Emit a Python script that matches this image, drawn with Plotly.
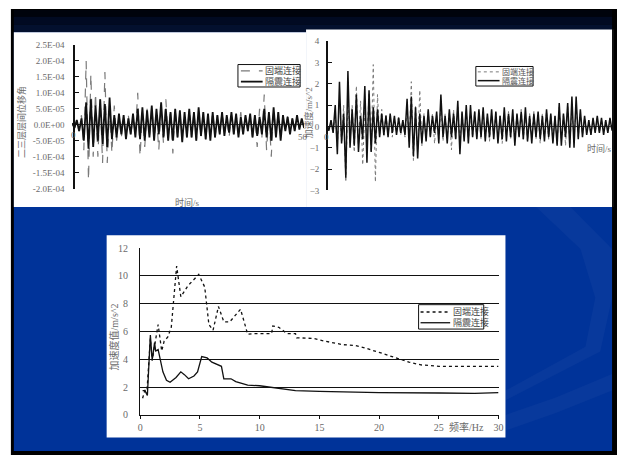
import numpy as np
import plotly.graph_objects as go

W, H = 622, 461

# ---------------- data ----------------
# top-left: inter-storey drift angle (units 1e-5), alternating extrema, 0-50 s
drift_fixed = [0.5, -1.0, 1.0, -2.0,
               3.0, -8.0, 20.0, -17.5, 16.0, -10.0, 10.0, -10.0, 8.0, -12.0, 16.5, -12.0, 5.0, -9.0, 6.0,
               -5.0, 3.0, -4.0, 2.0, -3.0, 3.0, -3.0, 2.0,
               -3.0, 10.0, -10.0, 4.0, -7.0, 5.0, -4.0, 6.0, -5.0, 3.0, -8.0, 6.0, -6.0, 8.0,
               -4.0, 5.0, -9.0, 5.0, -4.0, 4.0, -5.0, 3.0, -4.0, 5.0, -4.0, 4.0, -5.0, 3.0, -4.0, 4.0, -5.0, 3.0, -3.0, 4.0, -4.0,
               3.0, -3.0, 4.0, -3.0, 2.0, -4.0, 3.0, -3.0, 3.0, -2.0, 4.0, -3.0, 3.0, -2.0, 2.0, -4.0, 3.0, -7.0, 5.0,
               -4.0, 9.5, -8.0, 4.0, -10.0, 5.0, -3.0, 4.0, -4.0, 2.0,
               -2.0, 3.0, -2.0, 2.0, -2.0, 2.0, -1.0, 1.0, -0.5]
drift_isolated = [0.5, -1.0, 1.5, -2.0,
                  2.0, -5.0, 7.0, -7.5, 8.0, -7.0, 6.0, -5.0, 8.0, -6.0, 6.5, -7.0, 8.5, -4.5, 3.0,
                  -4.0, 3.5, -3.0, 3.0, -4.5, 2.0, -3.0, 3.5,
                  -4.0, 5.0, -4.5, 5.5, -5.0, 4.5, -4.0, 6.0, -5.0, 5.0, -3.0, 7.0, -4.0, 5.0,
                  -5.0, 4.0, -5.0, 5.0, -4.0, 4.5, -5.5, 4.0, -4.0, 5.0, -4.0, 4.0, -5.0, 5.5, -3.5, 4.0, -4.5, 3.5, -5.0, 4.0, -4.0,
                  3.0, -3.0, 4.0, -3.5, 3.0, -2.5, 4.0, -3.0, 3.5, -4.0, 2.5, -3.0, 3.0, -2.0, 3.5, -4.0, 3.0, -3.5, 2.5,
                  -3.0, 5.0, -4.0, 4.0, -5.0, 5.5, -4.0, 4.0, -5.0, 3.0,
                  -2.0, 2.5, -3.0, 2.0, -2.0, 3.0, -1.5, 2.0, -1.0]
drift_ticks = [2.5e-4, 2.0e-4, 1.5e-4, 1.0e-4, 5.0e-5, 0.0, -5.0e-5, -1.0e-4, -1.5e-4, -2.0e-4]
drift_ticktext = ["2.5E-04", "2.0E-04", "1.5E-04", "1.0E-04", "5.0E-05", "0.0E+00",
                  "-5.0E-05", "-1.0E-04", "-1.5E-04", "-2.0E-04"]

# top-right: acceleration (m/s^2), alternating extrema, 0-50 s
acc_fixed = [0.1, -0.1, 0.2, -0.3,
             0.6, -1.0, 1.2, -0.8, 1.0, -2.6, 1.5, -0.8, 1.0, -1.2, 1.9, -1.0, 1.2, -1.8, 0.8, -0.6, 1.6, -1.2, 2.9, -2.6, 1.5, -0.5,
             0.8, -0.5, 0.6, -0.4, 0.5, -0.5, 0.4, -0.3, 0.5, -0.4, 0.3,
             -0.5, 0.8, -0.7, 2.1, -1.6, 1.0, -1.2, 1.7, -0.9, 0.6,
             -0.6, 0.7, -0.5, 0.6, -0.8, 0.5, -0.6, 1.0, -0.7, 0.6, -0.5, 0.7, -1.1, 0.8, -0.6, 0.9, -0.8, 0.6, -0.5, 0.8,
             -0.7, 0.6, -0.5, 0.7, -0.6, 0.5, -0.6, 0.7,
             -0.6, 0.5, -0.7, 0.6, -0.5, 0.7, -0.6, 0.5, -0.8, 0.6, -0.5, 0.7, -0.6, 0.5, -0.7, 0.6, -0.5, 0.8,
             -0.6, 0.5, -0.7, 0.6, -0.5, 0.7, -0.6, 0.5, -0.8, 0.6, -0.5, 0.7, -0.6, 0.6, -0.7, 0.5,
             -0.8, 0.9, -0.7, 0.6, -0.9, 1.0, -0.8, 0.7, -0.6, 0.9, -0.5, 0.6, -0.4,
             0.4, -0.3, 0.3, -0.4, 0.3, -0.3, 0.4, -0.3, 0.3, -0.2, 0.3, -0.3, 0.2, -0.2]
acc_isolated = [0.1, -0.2, 0.3, -0.3,
                1.0, -1.3, 2.1, -0.8, 0.6, -2.4, 2.6, -1.0, 0.8, -0.9, 1.5, -1.2, 0.5, -0.6, 1.9, -1.7, 1.7, -1.2, 0.9, -0.8, 0.8, -0.5,
                0.6, -0.4, 0.5, -0.5, 0.6, -0.3, 0.5, -0.4, 0.4, -0.3, 0.3,
                -0.4, 1.3, -1.0, 1.4, -1.4, 0.9, -1.5, 0.6, -0.8, 0.5,
                -0.7, 0.8, -0.5, 0.5, -0.3, 0.7, -0.8, 1.5, -0.5, 0.5, -0.8, 0.8, -0.5, 0.6, -0.6, 1.2, -1.3, 0.7, -0.7, 1.0,
                -0.8, 1.0, -0.5, 0.7, -0.6, 0.8, -0.5, 0.9,
                -0.7, 0.6, -0.5, 0.8, -0.6, 0.7, -0.8, 0.5, -0.6, 0.9, -0.7, 0.6, -0.5, 0.8, -0.9, 0.6, -0.5, 0.7,
                -0.6, 0.9, -0.7, 0.5, -0.8, 0.6, -0.5, 0.7, -0.6, 0.5, -0.7, 0.8, -0.5, 0.6, -0.8, 0.5,
                -0.9, 1.1, -0.9, 0.6, -0.5, 1.1, -1.0, 1.4, -1.0, 1.4, -0.6, 0.8, -0.5,
                0.5, -0.4, 0.3, -0.4, 0.4, -0.3, 0.5, -0.3, 0.4, -0.4, 0.3, -0.3, 0.4, -0.2]

# bottom: peak acceleration spectrum
freq_fixed = [0.2, 0.4, 0.55, 0.7, 0.85, 1.0, 1.2, 1.5, 1.8, 2.0, 2.3, 2.6, 3.05, 3.4, 4.0, 4.9, 5.4, 5.75,
              6.1, 6.55, 7.0, 7.5, 8.4, 9.0, 9.5, 11.0, 11.1, 11.6, 12.3, 13.0, 13.1, 14.5, 15.5, 17.0,
              18.0, 18.7, 20.0, 21.0, 22.5, 23.5, 25.0, 30.0]
peak_fixed = [1.2, 1.8, 1.5, 3.8, 5.5, 3.9, 5.0, 6.5, 4.6, 5.3, 5.6, 6.3, 10.7, 8.5, 9.3, 10.1, 9.2, 6.5,
              6.1, 7.8, 6.7, 6.7, 7.6, 5.8, 5.85, 5.85, 6.4, 6.3, 5.85, 5.85, 5.55, 5.5, 5.3, 5.05,
              5.0, 4.85, 4.5, 4.2, 3.8, 3.6, 3.5, 3.5]
freq_isolated = [0.2, 0.4, 0.6, 0.75, 0.85, 1.0, 1.05, 1.2, 1.3, 1.5, 1.7, 1.9, 2.2, 2.5, 3.0, 3.4, 3.7,
                 4.05, 4.5, 4.8, 5.15, 5.6, 6.0, 6.5, 6.8, 7.0, 7.6, 8.0, 8.5, 9.0, 10.0, 11.0, 12.0,
                 13.0, 15.0, 17.0, 20.0, 25.0, 28.0, 30.0]
peak_isolated = [1.75, 1.75, 1.4, 4.6, 5.75, 4.0, 4.2, 5.2, 4.6, 4.7, 4.0, 3.1, 2.5, 2.35, 2.7, 3.1, 2.9,
                 2.6, 2.8, 3.1, 4.2, 4.1, 3.8, 3.6, 3.5, 2.6, 2.6, 2.4, 2.25, 2.15, 2.1, 2.0, 1.85,
                 1.75, 1.7, 1.65, 1.6, 1.58, 1.55, 1.6]

names = ["固端连接", "隔震连接"]

# ---------------- helpers ----------------
def px(x):
    return x / W

def py(y):
    return 1 - y / H

def rect(x0, y0, x1, y1, color, line=None, layer="below"):
    return dict(type="rect", xref="paper", yref="paper", x0=px(x0), x1=px(x1),
                y0=py(y1), y1=py(y0), fillcolor=color,
                line=line if line else dict(width=0), layer=layer)

def hline(x0, x1, y, color, width, dash="solid"):
    return dict(type="line", xref="paper", yref="paper", x0=px(x0), x1=px(x1), y0=py(y), y1=py(y),
                line=dict(color=color, width=width, dash=dash), layer="above")

def path(pts, color):
    s = "M " + " L ".join(f"{px(a):.4f},{py(b):.4f}" for a, b in pts) + " Z"
    return dict(type="path", xref="paper", yref="paper", path=s, fillcolor=color,
                line=dict(width=0), layer="below")

FONT = "Liberation Serif, Noto Sans CJK SC, serif"
GRAY = "#6a6a6a"

# trace styles (shared by traces and legend samples)
st_left = [dict(color="#7a7a7a", width=1.2, dash="dash"), dict(color="#111111", width=1.8)]
st_right = [dict(color="#7a7a7a", width=1.0, dash="dot"), dict(color="#111111", width=1.5)]
st_bottom = [dict(color="#111111", width=1.3, dash="dot"), dict(color="#111111", width=1.3)]

fig = go.Figure()

t_left = np.linspace(0, 50, len(drift_fixed))
t_right = np.linspace(0, 50, len(acc_fixed))
drift_scale = 1e-5

fig.add_trace(go.Scatter(x=t_left, y=np.array(drift_fixed) * drift_scale, mode="lines", name=names[0],
                         line=st_left[0], xaxis="x", yaxis="y"))
fig.add_trace(go.Scatter(x=t_left, y=np.array(drift_isolated) * drift_scale, mode="lines", name=names[1],
                         line=st_left[1], xaxis="x", yaxis="y"))
fig.add_trace(go.Scatter(x=t_right, y=acc_fixed, mode="lines", name=names[0],
                         line=st_right[0], xaxis="x2", yaxis="y2"))
fig.add_trace(go.Scatter(x=t_right, y=acc_isolated, mode="lines", name=names[1],
                         line=st_right[1], xaxis="x2", yaxis="y2"))
fig.add_trace(go.Scatter(x=freq_fixed, y=peak_fixed, mode="lines", name=names[0],
                         line=st_bottom[0], xaxis="x3", yaxis="y3"))
fig.add_trace(go.Scatter(x=freq_isolated, y=peak_isolated, mode="lines", name=names[1],
                         line=st_bottom[1], xaxis="x3", yaxis="y3"))

shapes = [
    rect(8, 4, 622, 461, "#000000"),
    rect(11, 5, 617, 12, "#00030c"),
    rect(11, 12, 617, 20, "#010a22"),
    rect(11, 20, 617, 28, "#03102e"),
    rect(11, 28, 617, 457, "#003399"),
    path([(540, 207), (585, 250), (600, 300), (590, 350), (509, 395), (509, 405), (605, 355), (617, 300), (617, 250), (575, 207)],
         "rgba(255,255,255,0.03)"),
    path([(509, 420), (560, 402), (617, 378), (617, 395), (560, 418), (509, 436)], "rgba(255,255,255,0.03)"),
    rect(11, 28, 307, 207, "#ffffff"),
    rect(307, 25, 617, 207, "#ffffff"),
    rect(617, 25, 619, 207, "#111111"),
    rect(105, 236, 509, 443, "#ffffff"),
]

annotations = []

def ann(x, y, text, size=9, angle=0, anchor="center", color=GRAY):
    annotations.append(dict(x=px(x), y=py(y), xref="paper", yref="paper", text=text, showarrow=False,
                            textangle=angle, xanchor=anchor, yanchor="middle",
                            font=dict(family=FONT, size=size, color=color)))

def legend_box(x0, y0, x1, y1, rows, styles, line_x0, line_x1, text_x, size, color):
    shapes.append(rect(x0, y0, x1, y1, "#ffffff", line=dict(color="#111111", width=1), layer="above"))
    for (ry, label), stl in zip(rows, styles):
        shapes.append(hline(line_x0, line_x1, ry, stl["color"], stl["width"], stl.get("dash", "solid")))
        ann(text_x, ry, label, size=size, anchor="left", color=color)

legend_box(238, 61, 301, 84, [(67.5, names[0]), (78.5, names[1])], st_left, 241, 263, 263, 9, "#444444")
legend_box(479, 63, 537, 83, [(68.5, names[0]), (77.5, names[1])], st_right, 481, 503, 503, 8, "#555555")
legend_box(421, 307, 487, 332, [(314.5, names[0]), (325.5, names[1])], st_bottom, 423, 453, 454, 9, "#444444")

ann(187, 202, "时间/s")
ann(18, 120, "二三层层间位移角", angle=-90)
ann(71, 133, "0")
ann(304, 135, "50")
ann(309, 111, "加速度/m/s^2", angle=-90)
ann(328, 135, "0")
ann(590, 147, "时间/s", anchor="left")
ann(112, 340, "加速度值/m/s^2", size=10, angle=-90)
ann(470, 432, "频率/Hz", size=10)

tickfont9 = dict(family=FONT, size=9, color=GRAY)
tickfont10 = dict(family=FONT, size=10, color=GRAY)

fig.update_layout(
    width=W, height=H, margin=dict(l=0, r=0, t=0, b=0),
    paper_bgcolor="#ffffff", plot_bgcolor="rgba(0,0,0,0)",
    shapes=shapes, annotations=annotations, showlegend=False,
    font=dict(family=FONT, color="#333333"),
    xaxis=dict(domain=[px(70), px(305)], range=[0, 50], showticklabels=False, showgrid=False,
               zeroline=False, showline=False, ticks="", anchor="y"),
    yaxis=dict(domain=[py(188), py(41)], range=[-2.0e-4, 2.5e-4], tickvals=drift_ticks,
               ticktext=drift_ticktext, tickfont=tickfont9, showgrid=False, showline=True,
               linecolor="#111111", linewidth=1.5, ticks="inside", ticklen=4, tickcolor="#111111",
               zeroline=True, zerolinecolor="#333333", zerolinewidth=1, anchor="free", position=px(72),
               ticklabelstandoff=7),
    xaxis2=dict(domain=[px(328), px(617)], range=[0, 50], showticklabels=False, showgrid=False,
                zeroline=False, showline=False, ticks="", anchor="y2"),
    yaxis2=dict(domain=[py(190), py(37)], range=[-3, 4], dtick=1, tickfont=tickfont9, showgrid=False,
                showline=True, linecolor="#111111", linewidth=1.5, ticks="inside", ticklen=4,
                tickcolor="#111111", zeroline=True, zerolinecolor="#333333", zerolinewidth=1,
                anchor="free", position=px(328), ticklabelstandoff=5),
    xaxis3=dict(domain=[px(139), px(502)], range=[0, 30], tickvals=[0, 5, 10, 15, 20, 25, 30],
                tickfont=tickfont10, showgrid=False, zeroline=False, showline=True, linecolor="#111111",
                linewidth=1.2, ticks="outside", ticklen=3, tickcolor="#111111", anchor="y3"),
    yaxis3=dict(domain=[py(420), py(249)], range=[0, 12], dtick=2, tickfont=tickfont10, showgrid=True,
                gridcolor="#111111", gridwidth=1, showline=True, linecolor="#111111", linewidth=1.2,
                zeroline=False, ticks="", anchor="x3", ticklabelstandoff=9),
)

fig.write_html("out.html", config={"displayModeBar": False},
               post_script="document.body.style.margin='0';document.body.style.overflow='hidden';")
